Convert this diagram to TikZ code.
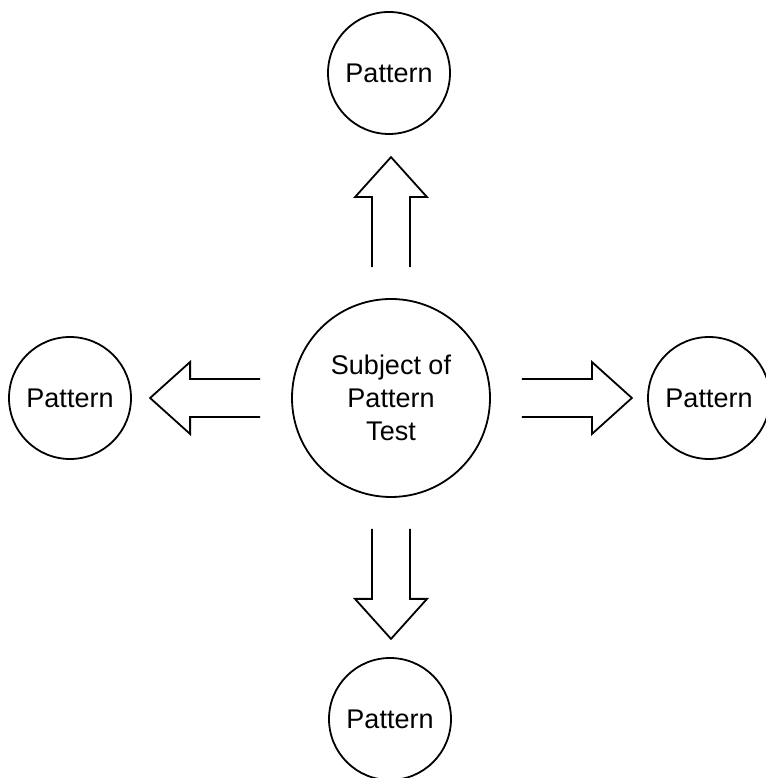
\documentclass[tikz,border=0pt]{standalone}
\usepackage{fontspec}
\setmainfont{Liberation Sans}
\usetikzlibrary{calc}
\tikzset{
  patt/.style={draw, circle, line width=1.8pt, inner sep=0pt, minimum size=122pt,
    font=\fontsize{27}{33}\selectfont, align=center},
  fatarrow/.pic={\draw[line width=1.8pt, line join=miter]
    (0,19) -- (70,19) -- (70,36) -- (110,0) -- (70,-36) -- (70,-19) -- (0,-19);}
}

\begin{document}
\begin{tikzpicture}[x=1pt,y=1pt]
  \useasboundingbox (0,0) rectangle (765,778);
  \node[patt, minimum size=198pt] (subj) at (391,380) {Subject of\\Pattern\\Test};
  \node[patt] (up) at (389,705) {Pattern};
  \node[patt] (down) at (390,59) {Pattern};
  \node[patt] (west) at (70,380) {Pattern};
  \node[patt] (east) at (709,380) {Pattern};
  % hollow arrows out of the subject
  \pic[rotate=90] at ($(subj.north)+(0,31)$) {fatarrow};
  \pic[rotate=-90] at ($(subj.south)+(0,-31)$) {fatarrow};
  \pic[rotate=180] at ($(subj.west)+(-31,0)$) {fatarrow};
  \pic at ($(subj.east)+(31,0)$) {fatarrow};
\end{tikzpicture}
\end{document}
